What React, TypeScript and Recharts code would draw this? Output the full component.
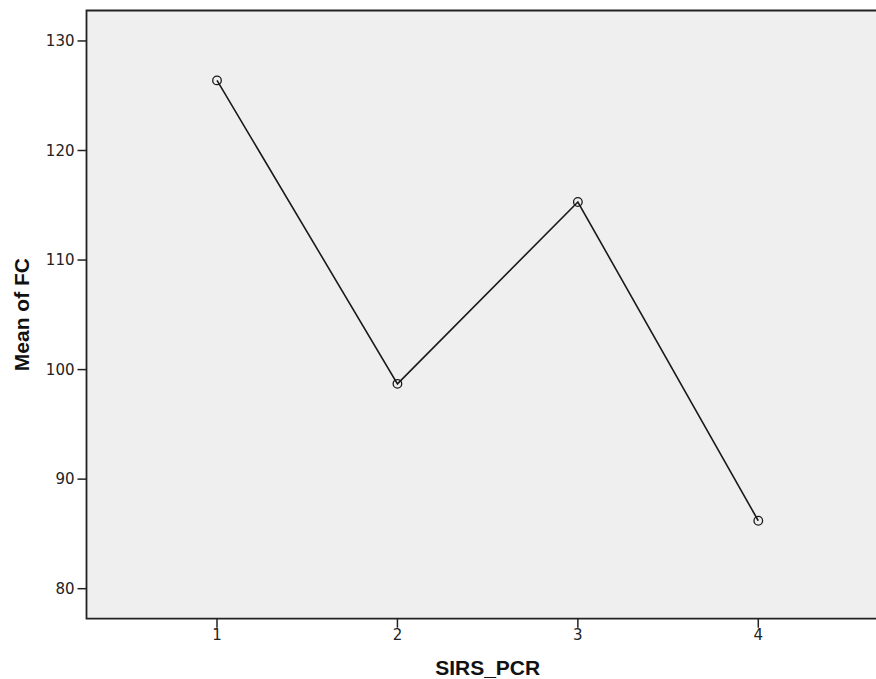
import React from "react";
import { LineChart, Line, XAxis, YAxis, ReferenceArea } from "recharts";

const categories = [1, 2, 3, 4];
const meanFC = [126.4, 98.7, 115.3, 86.2];
const yTicks = [80, 90, 100, 110, 120, 130];

const data = categories.map((c, i) => ({ x: c, y: meanFC[i] }));

const X_DOMAIN: [number, number] = [0.2767, 4.7233];
const Y_DOMAIN: [number, number] = [77.26, 132.78];

const tickStyle = { fontFamily: "DejaVu Sans", fontSize: 15, fill: "#222" };
const titleFont = "Liberation Sans, Arial, sans-serif";

export default function App() {
  return (
    <div
      style={{
        position: "fixed",
        left: 0,
        top: 0,
        width: 876,
        height: 679,
        overflow: "hidden",
        background: "#fff",
      }}
    >
      <LineChart
        width={897}
        height={679}
        data={data}
        margin={{ top: 10.5, right: 8.2, bottom: 0, left: 0 }}
      >
        <XAxis
          dataKey="x"
          type="number"
          domain={X_DOMAIN}
          ticks={categories}
          allowDataOverflow
          height={60.3}
          axisLine={false}
          tickLine={{ stroke: "#222", strokeWidth: 1.5 }}
          tickSize={9}
          tickMargin={2}
          tick={tickStyle}
          label={{
            value: "SIRS_PCR",
            position: "insideBottom",
            offset: 4,
            style: { fontFamily: titleFont, fontSize: 21, fontWeight: "bold", fill: "#111" },
          }}
        />
        <YAxis
          type="number"
          domain={Y_DOMAIN}
          ticks={yTicks}
          allowDataOverflow
          width={86.5}
          axisLine={false}
          tickLine={{ stroke: "#222", strokeWidth: 1.5 }}
          tickSize={9}
          tickMargin={3}
          tick={tickStyle}
          label={{
            value: "Mean of FC",
            content: (props: any) => {
              const vb = props.viewBox || {};
              const cy = (vb.y || 0) + (vb.height || 0) / 2;
              return (
                <text
                  x={22}
                  y={cy}
                  transform={`rotate(-90 22 ${cy})`}
                  textAnchor="middle"
                  dominantBaseline="central"
                  style={{ fontFamily: titleFont, fontSize: 21, fontWeight: "bold", fill: "#111" }}
                >
                  Mean of FC
                </text>
              );
            },
          }}
        />
        <ReferenceArea
          x1={X_DOMAIN[0]}
          x2={X_DOMAIN[1]}
          y1={Y_DOMAIN[0]}
          y2={Y_DOMAIN[1]}
          fill="#efefef"
          fillOpacity={1}
          stroke="#222"
          strokeWidth={1.8}
          ifOverflow="visible"
        />
        <Line
          dataKey="y"
          stroke="#1a1a1a"
          strokeWidth={1.6}
          isAnimationActive={false}
          dot={{ r: 4.3, stroke: "#1a1a1a", strokeWidth: 1.3, fill: "none" }}
          activeDot={false}
        />
      </LineChart>
    </div>
  );
}
